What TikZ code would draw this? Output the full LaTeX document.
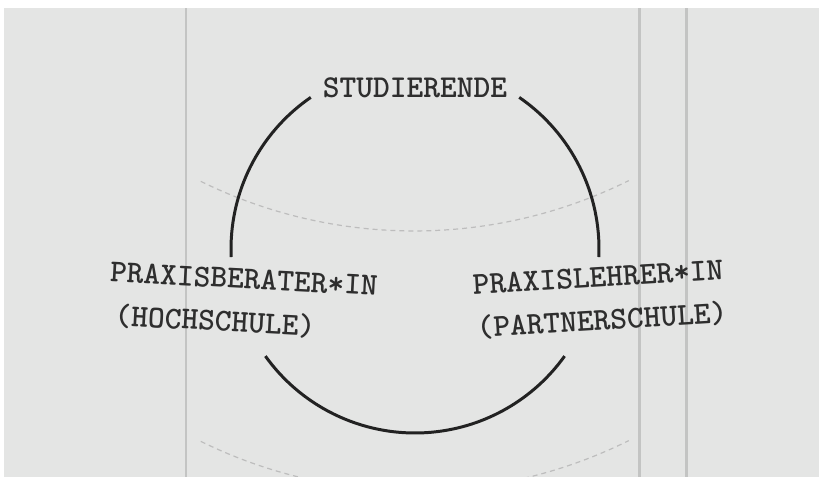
\documentclass[tikz,border=0pt]{standalone}
\usepackage{fontspec}
\definecolor{bggrey}{HTML}{E4E5E4}
\definecolor{vline}{HTML}{C3C4C3}
\definecolor{arcdark}{HTML}{222222}
\definecolor{dashgrey}{HTML}{BDBDBD}
\definecolor{txt}{HTML}{2E2E2E}
\tikzset{
  lbl/.style={font=\ttfamily\bfseries\fontsize{32}{42}\selectfont, text=txt, inner sep=0pt, align=center},
  ring/.style={line width=3pt, draw=arcdark},
  guide/.style={line width=1.2pt, draw=dashgrey, dash pattern=on 5pt off 4pt},
  pillar/.style={line width=3pt, draw=vline}
}
\begin{document}
\begin{tikzpicture}[x=1bp,y=1bp]
\useasboundingbox (0,0) rectangle (819,477);
\fill[white] (0,0) rectangle (819,477);
\fill[bggrey] (4,0) rectangle (819,469);
\begin{scope}
\clip (4,0) rectangle (819,469);
% vertical pillars
\draw[pillar] (186,0) -- (186,469);
\draw[pillar] (639,0) -- (639,469);
\draw[pillar] (686,0) -- (686,469);
% dashed guides
\coordinate (g1) at (414,729);
\coordinate (g2) at (414,469);
\draw[guide] ([shift={(-116.2:483)}]g1) arc[start angle=-116.2, end angle=-63.6, radius=483];
\draw[guide] ([shift={(-116.2:483)}]g2) arc[start angle=-116.2, end angle=-63.6, radius=483];
% circle arcs
\coordinate (c) at (415,228);
\draw[ring] ([shift={(182.5:184)}]c) arc[start angle=182.5, end angle=124.5, radius=184];
\draw[ring] ([shift={(55.5:184)}]c) arc[start angle=55.5, end angle=-2.5, radius=184];
\draw[ring] ([shift={(215.6:184)}]c) arc[start angle=215.6, end angle=324.4, radius=184];
\end{scope}
% labels
\node[lbl] (stud) at (415,389) {STUDIERENDE};
\node[lbl, rotate=-3] (pb1) at (244,198) {PRAXISBERATER*IN};
\node[lbl, rotate=-3] (pb2) at (215,156) {(HOCHSCHULE)};
\node[lbl, rotate=3.5] (pl1) at (598,200) {PRAXISLEHRER*IN};
\node[lbl, rotate=3.5] (pl2) at (602,157) {(PARTNERSCHULE)};
\end{tikzpicture}
\end{document}
